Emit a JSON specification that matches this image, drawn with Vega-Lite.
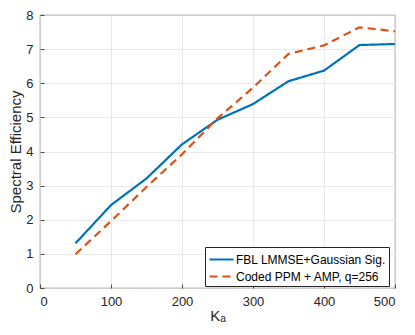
{
  "$schema": "https://vega.github.io/schema/vega-lite/v6.json",
  "width": 355,
  "height": 273,
  "autosize": "none",
  "padding": {"left": 40, "top": 15, "right": 20, "bottom": 47},
  "background": "white",
  "config": {
    "font": "Liberation Sans",
    "view": {"stroke": "#262626", "strokeWidth": 0.8},
    "axis": {
      "labelFont": "Liberation Sans",
      "titleFont": "Liberation Sans",
      "labelColor": "#262626",
      "titleColor": "#262626",
      "labelFontSize": 13,
      "titleFontSize": 15,
      "titleFontWeight": "normal",
      "gridColor": "#e3e3e3",
      "gridWidth": 0.8,
      "domain": false,
      "tickColor": "#262626",
      "tickSize": -4,
      "tickWidth": 0.8
    },
    "legend": {
      "labelFont": "Liberation Sans",
      "labelFontSize": 12,
      "labelColor": "#000000"
    }
  },
  "data": {
    "values": [
      {"k": 50, "se": 1.31, "s": "FBL LMMSE+Gaussian Sig."},
      {"k": 100, "se": 2.43, "s": "FBL LMMSE+Gaussian Sig."},
      {"k": 150, "se": 3.21, "s": "FBL LMMSE+Gaussian Sig."},
      {"k": 200, "se": 4.21, "s": "FBL LMMSE+Gaussian Sig."},
      {"k": 250, "se": 4.93, "s": "FBL LMMSE+Gaussian Sig."},
      {"k": 300, "se": 5.39, "s": "FBL LMMSE+Gaussian Sig."},
      {"k": 350, "se": 6.06, "s": "FBL LMMSE+Gaussian Sig."},
      {"k": 400, "se": 6.37, "s": "FBL LMMSE+Gaussian Sig."},
      {"k": 450, "se": 7.12, "s": "FBL LMMSE+Gaussian Sig."},
      {"k": 500, "se": 7.15, "s": "FBL LMMSE+Gaussian Sig."},
      {"k": 50, "se": 0.99, "s": "Coded PPM + AMP, q=256"},
      {"k": 100, "se": 1.96, "s": "Coded PPM + AMP, q=256"},
      {"k": 150, "se": 2.96, "s": "Coded PPM + AMP, q=256"},
      {"k": 200, "se": 3.92, "s": "Coded PPM + AMP, q=256"},
      {"k": 250, "se": 4.97, "s": "Coded PPM + AMP, q=256"},
      {"k": 300, "se": 5.87, "s": "Coded PPM + AMP, q=256"},
      {"k": 350, "se": 6.86, "s": "Coded PPM + AMP, q=256"},
      {"k": 400, "se": 7.11, "s": "Coded PPM + AMP, q=256"},
      {"k": 450, "se": 7.64, "s": "Coded PPM + AMP, q=256"},
      {"k": 500, "se": 7.52, "s": "Coded PPM + AMP, q=256"}
    ]
  },
  "mark": {"type": "line", "strokeWidth": 2.2},
  "encoding": {
    "x": {
      "field": "k", "type": "quantitative",
      "scale": {"domain": [0, 500], "nice": false},
      "axis": {"values": [0, 100, 200, 300, 400, 500], "title": "Kₐ", "labelPadding": 11, "titlePadding": 0}
    },
    "y": {
      "field": "se", "type": "quantitative",
      "scale": {"domain": [0, 8], "nice": false},
      "axis": {"values": [0, 1, 2, 3, 4, 5, 6, 7, 8], "title": "Spectral Efficiency", "labelPadding": 11, "titlePadding": 2}
    },
    "color": {
      "field": "s", "type": "nominal",
      "scale": {"domain": ["FBL LMMSE+Gaussian Sig.", "Coded PPM + AMP, q=256"], "range": ["#0072BD", "#D95319"]},
      "legend": {
        "title": null,
        "orient": "none",
        "legendX": 165,
        "legendY": 232,
        "symbolType": "M-1.5,0H1.5",
        "symbolSize": 256,
        "symbolStrokeWidth": 2.2,
        "symbolOffset": 4,
        "strokeColor": "#262626",
        "fillColor": "white",
        "padding": 3,
        "rowPadding": 1,
        "labelOffset": 5
      }
    },
    "strokeDash": {
      "field": "s", "type": "nominal",
      "scale": {"domain": ["FBL LMMSE+Gaussian Sig.", "Coded PPM + AMP, q=256"], "range": [[1, 0], [8, 5]]},
      "legend": null
    },
    "order": {"field": "k"}
  }
}
